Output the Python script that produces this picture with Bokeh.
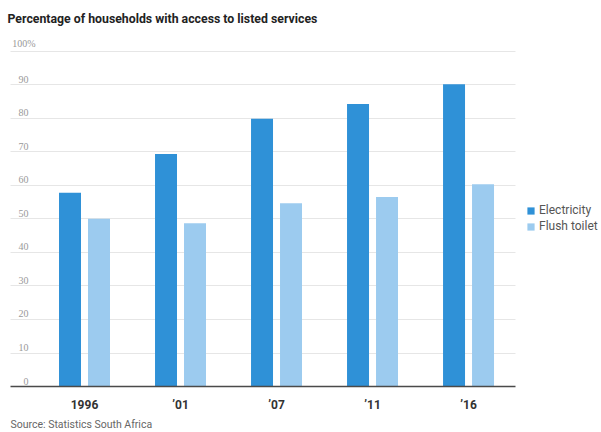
from bokeh.plotting import figure
from bokeh.models import (ColumnDataSource, Range1d, FixedTicker, LabelSet, Label,
                          Legend, LegendItem, LinearAxis)
from bokeh.transform import dodge
from bokeh.embed import file_html
from bokeh.resources import INLINE

# Share of South African households with access to each service (%)
years = ["1996", "\u201901", "\u201907", "\u201911", "\u201916"]
electricity = [57.8, 69.4, 79.9, 84.3, 90.2]
flush_toilet = [50.1, 48.7, 54.7, 56.6, 60.4]
y_ticks = [0, 10, 20, 30, 40, 50, 60, 70, 80, 90, 100]

ELEC_COLOR = "#2f91d7"
FLUSH_COLOR = "#9ccbef"
FONT = "Roboto"

W, H = 601, 432
# the plotting frame fills the whole canvas; the bar area sits inside it
X_START, X_END = -0.875, 5.385
Y_START, Y_END = -13.73, 115.22
BAR_AREA = (-0.771, 4.49)

src = ColumnDataSource(dict(
    x=list(range(len(years))),
    electricity=electricity,
    flush=flush_toilet,
))

p = figure(width=W, height=H, output_backend="svg", toolbar_location=None,
           x_range=Range1d(X_START, X_END), y_range=Range1d(Y_START, Y_END),
           x_axis_location=None, y_axis_location=None,
           min_border=0, min_border_left=0, min_border_right=0,
           min_border_top=0, min_border_bottom=0)
p.outline_line_color = None
p.background_fill_color = "white"
p.border_fill_color = "white"

# horizontal gridlines
p.xgrid.visible = False
p.ygrid.ticker = FixedTicker(ticks=y_ticks[1:])
p.ygrid.grid_line_color = "#e6e6e6"
p.ygrid.grid_line_width = 1
try:
    p.ygrid[0].cross_bounds = BAR_AREA
except AttributeError:
    pass

# grouped bars
r_e = p.vbar(x=dodge("x", -0.151, range=p.x_range), top="electricity", width=0.229,
             bottom=0, source=src, fill_color=ELEC_COLOR, line_color=None)
r_f = p.vbar(x=dodge("x", 0.151, range=p.x_range), top="flush", width=0.229,
             bottom=0, source=src, fill_color=FLUSH_COLOR, line_color=None)

# baseline axis drawn at zero inside the frame
xa = LinearAxis(fixed_location=0, bounds=BAR_AREA,
                ticker=FixedTicker(ticks=list(range(len(years)))))
xa.major_label_overrides = {i: y for i, y in enumerate(years)}
xa.major_tick_line_color = None
xa.minor_tick_line_color = None
xa.axis_line_color = "#4a4a4a"
xa.axis_line_width = 1.5
xa.major_label_text_font = FONT
xa.major_label_text_font_style = "bold"
xa.major_label_text_font_size = "12px"
xa.major_label_text_color = "#333333"
xa.major_label_standoff = 5
p.add_layout(xa, "below")

# y tick labels sitting on top of the gridlines; the top one carries the unit,
# which hangs to the right of the numbers' common right edge
tick_text = [str(v) for v in y_ticks[:-1]] + [f"{y_ticks[-1]}%"]
tick_sx = [28] * (len(y_ticks) - 1) + [35]
tick_src = ColumnDataSource(dict(y=y_ticks, sx=tick_sx, text=tick_text))
p.add_layout(LabelSet(x="sx", y="y", text="text", source=tick_src,
                      x_units="screen", y_units="data", y_offset=2,
                      text_align="right", text_baseline="bottom",
                      text_font=FONT, text_font_size="10px", text_color="#999999"))

# headline and source line
p.add_layout(Label(x=7, y=H - 18, x_units="screen", y_units="screen",
                   text="Percentage of households with access to listed services",
                   text_align="left", text_baseline="middle",
                   text_font=FONT, text_font_style="bold", text_font_size="12.3px",
                   text_color="#222222"))
p.add_layout(Label(x=10, y=2, x_units="screen", y_units="screen",
                   text="Source: Statistics South Africa",
                   text_align="left", text_baseline="bottom",
                   text_font=FONT, text_font_size="10.5px", text_color="#666666"))

# legend to the right of the bars
legend = Legend(items=[LegendItem(label="Electricity", renderers=[r_e]),
                       LegendItem(label="Flush toilet", renderers=[r_f])],
                location=(526, H - 234), padding=0, margin=0, spacing=0,
                glyph_width=9, glyph_height=9, label_height=16, label_standoff=4,
                border_line_color=None, background_fill_alpha=0,
                label_text_font=FONT, label_text_font_size="12px",
                label_text_color="#555555")
p.add_layout(legend)

open("out.html", "w").write(file_html(p, INLINE))
